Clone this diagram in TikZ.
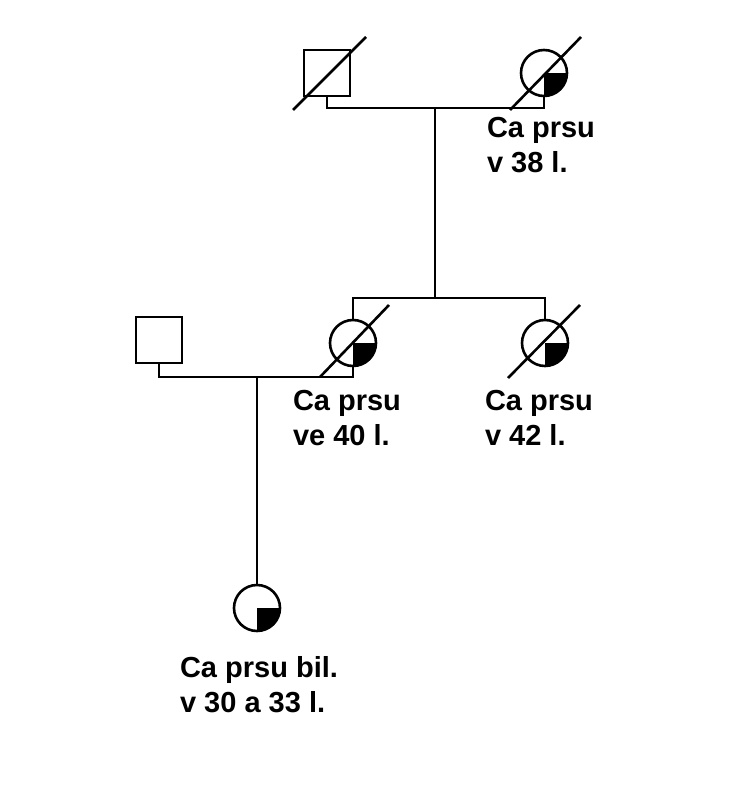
\documentclass[tikz,border=0pt]{standalone}
\usepackage{fontspec}
\setmainfont{Liberation Sans}
\usepackage{tikz}

\begin{document}
\begin{tikzpicture}[x=1pt,y=-1pt,line width=2.6pt,
  male/.style={draw,rectangle,minimum size=46pt,inner sep=0pt},
  female/.style={draw,circle,minimum size=46pt,inner sep=0pt},
  affected/.style={path picture={\fill (path picture bounding box.center) rectangle (path picture bounding box.south east);}},
  lbl/.style={font=\fontsize{29}{35}\selectfont\bfseries,align=left}]
\useasboundingbox (0,0) rectangle (744,800);
% generation I
\node [male] (gf) at(327,73){};
\node [female,affected] (gm) at(544,73){};
\coordinate (gfd) at(327,108);
\coordinate (gmd) at(544,108);
\coordinate (gc) at(435,108);
\draw (gf) -- (gfd) -- (gmd) -- (gm);
\draw ([shift={(-34,37)}]gf.center) -- ([shift={(39,-36)}]gf.center);
\draw ([shift={(-34,37)}]gm.center) -- ([shift={(37,-36)}]gm.center);
\node [lbl] (gml) at(541,145){Ca prsu\\v 38 l.};
% generation II
\node [male] (fa) at(159,340){};
\node [female,affected] (mo) at(353,343){};
\node [female,affected] (si) at(545,343){};
\coordinate (sl) at(353,298);
\coordinate (sr) at(545,298);
\coordinate (sc) at(435,298);
\draw (gc) -- (sc);
\draw (mo) -- (sl) -- (sr) -- (si);
\draw ([shift={(-33,34)}]mo.center) -- ([shift={(36,-38)}]mo.center);
\draw ([shift={(-37,35)}]si.center) -- ([shift={(35,-38)}]si.center);
\coordinate (fad) at(159,377);
\coordinate (mod) at(353,377);
\coordinate (mc) at(257,377);
\draw (fa) -- (fad) -- (mod) -- (mo);
\node [lbl] (mol) at(347,418){Ca prsu\\ve 40 l.};
\node [lbl] (sil) at(539,418){Ca prsu\\v 42 l.};
% generation III
\node [female,affected] (da) at(257,608){};
\draw (mc) -- (da);
\node [lbl] (dal) at(259,685){Ca prsu bil.\\v 30 a 33 l.};
\end{tikzpicture}
\end{document}
